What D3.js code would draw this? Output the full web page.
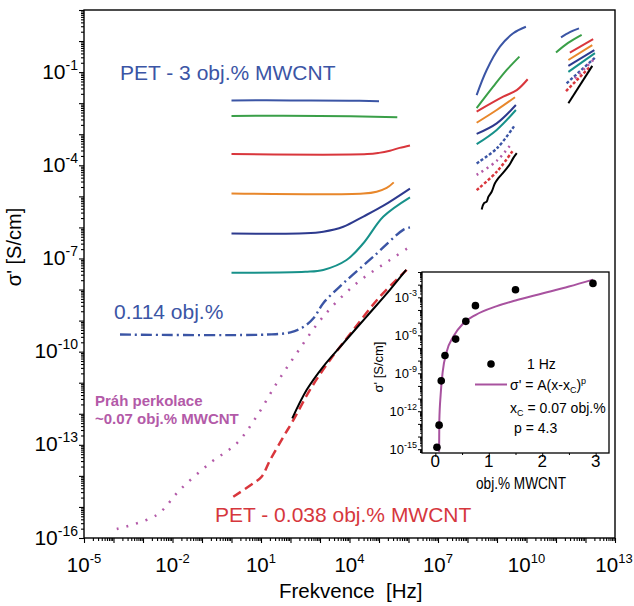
<!DOCTYPE html>
<html>
<head>
<meta charset="utf-8">
<script src="https://cdn.jsdelivr.net/npm/d3@7"></script>
<style>
  body { margin: 0; background: #fff; }
  svg { font-family: "Liberation Sans", Arial, sans-serif; }
</style>
</head>
<body>
<svg id="chart" width="634" height="606"></svg>
<script>
// every point is [log10 f (Hz), log10 sigma' (S/cm)]
// each series: [low-frequency curve, first HF block, second HF block]
const blueLine = [
  [[0, -1.91], [2, -1.91], [4, -1.92], [5, -1.94]],
  [[8.31, -1.74], [8.65, -0.93], [9.10, -0.18], [9.55, 0.25], [9.98, 0.46]],
  [[11.17, 0.12], [11.47, 0.29], [11.78, 0.41]]
];
const greenLine = [
  [[0, -2.41], [3, -2.41], [5.62, -2.45]],
  [[8.31, -2.16], [8.87, -1.47], [9.33, -0.93], [9.76, -0.50]],
  [[11.0, -0.37], [11.41, -0.06], [11.87, 0.20]]
];
const redLine = [
  [[0, -3.64], [4.6, -3.64], [5.0, -3.6], [5.37, -3.53], [5.7, -3.44], [6.05, -3.36]],
  [[8.31, -2.27], [9.21, -1.79], [9.67, -1.58], [10.04, -1.23]],
  [[11.47, -0.37], [12.26, 0.06]]
];
const orangeLine = [
  [[0, -4.91], [4.47, -4.91], [4.92, -4.85], [5.26, -4.73], [5.5, -4.55]],
  [[8.31, -2.63], [8.99, -2.22], [9.61, -1.81]],
  [[11.42, -0.61], [12.23, -0.13]]
];
const navyLine = [
  [[0, -6.2], [2.5, -6.19], [3.11, -6.14], [3.79, -5.98], [4.47, -5.65], [5.15, -5.3], [6.05, -4.75]],
  [[8.31, -2.99], [8.99, -2.65], [9.64, -2.06]],
  [[11.42, -0.80], [12.30, -0.29]]
];
const tealLine = [
  [[0, -7.46], [2.5, -7.43], [3.11, -7.37], [3.9, -7.05], [4.47, -6.51], [5.15, -5.65], [6.05, -5.03]],
  [[8.31, -3.32], [8.99, -2.86], [9.64, -2.22]],
  [[11.42, -0.99], [12.32, -0.39]]
];
const line0114 = [
  [[-3.78, -9.45], [1.2, -9.45], [2.0, -9.38], [2.45, -9.2], [2.8, -8.9], [3.11, -8.44], [3.79, -7.8], [4.81, -6.94], [5.82, -6.08], [6.05, -6.0]],
  [[8.31, -3.94], [9.0, -3.45], [9.61, -2.70]],
  [[11.36, -1.36], [12.36, -0.50]]
];
const lineThreshold = [
  [[-3.89, -15.71], [-2.54, -15.26], [-1.75, -14.45], [-0.73, -13.59], [0.18, -12.95], [0.85, -12.09],
   [1.53, -11.02], [2.21, -10.05], [3.11, -8.87], [4.24, -7.8], [5.37, -7.05], [6.05, -6.62]],
  [[8.31, -4.31], [9.0, -3.85], [9.5, -3.29]],
  [[11.64, -1.20], [12.26, -0.61]]
];
const line0038 = [
  [[0.06, -14.67], [0.74, -14.24], [1.02, -14.03], [1.31, -13.49], [1.76, -12.74], [2.1, -12.2],
   [2.66, -11.23], [3.34, -10.27], [4.13, -9.3], [5.03, -8.23], [5.94, -7.37]],
  [[8.31, -4.80], [9.0, -4.2], [9.55, -3.51]],
  [[11.34, -1.61], [12.15, -0.83]]
];
const blackLine = [
  [[2.06, -12.15], [2.55, -11.23], [3.11, -10.48], [3.79, -9.73], [4.58, -8.87], [5.37, -8.01], [5.92, -7.37]],
  [[8.48, -5.42], [8.56, -5.22], [8.65, -5.17], [8.71, -5.01], [8.82, -4.85], [8.93, -4.58],
   [9.04, -4.42], [9.19, -4.26], [9.33, -4.10], [9.44, -3.96], [9.55, -3.77], [9.67, -3.61]],
  [[11.42, -2.0], [12.23, -0.80]]
];

// inset: sigma' at 1 Hz vs MWCNT content
const insetConc = [0.03, 0.07, 0.11, 0.18, 0.38, 0.57, 0.75, 1.5, 2.95];
const insetLogSigma = [-14.85, -13.1, -9.6, -7.6, -6.3, -4.9, -3.66, -2.4, -1.9];
const fitConc = [0.07, 0.074, 0.099, 0.137, 0.212, 0.337, 0.524, 0.749, 1.15, 1.5, 2.0, 2.5, 2.95];
const fitLogSigma = [-15.2, -12.8, -10.7, -8.9, -7.3, -6.1, -5.05, -4.4, -3.7, -3.25, -2.7, -2.15, -1.6];

const xLabelExp = [-5, -2, 1, 4, 7, 10, 13];
const yLabelExp = [-16, -13, -10, -7, -4, -1];
const insetYLabelExp = [-15, -12, -9, -6, -3];
const insetXTicks = [0, 1, 2, 3];

const svg = d3.select("#chart");
const x = d3.scaleLog().domain([1e-5, 1e13]).range([84, 615]);
const y = d3.scaleLog().domain([1e-16, 1e1]).range([538, 10]);

const decades = (a, b) => d3.range(a, b + 1).map(e => 10 ** e);
const minors = (a, b) => d3.range(a, b).flatMap(e => d3.range(2, 10).map(k => k * 10 ** e));

// main axes
function tickAxis(axis, values, size, tr) {
  svg.append("g").attr("transform", tr)
    .call(axis.tickValues(values).tickSize(size).tickFormat(""))
    .call(g => g.select(".domain").remove())
    .selectAll("line").attr("stroke-width", 1.1);
}
tickAxis(d3.axisBottom(x), minors(-5, 13), 3, "translate(0,538)");
tickAxis(d3.axisBottom(x), decades(-5, 13), 5, "translate(0,538)");
tickAxis(d3.axisLeft(y), minors(-16, 1), 3, "translate(84,0)");
tickAxis(d3.axisLeft(y), decades(-16, 1), 5, "translate(84,0)");

svg.append("rect").attr("x", 84).attr("y", 10).attr("width", 531).attr("height", 528)
  .attr("fill", "none").attr("stroke", "#000").attr("stroke-width", 1.4);

xLabelExp.forEach(e => {
  const t = svg.append("text").attr("x", Math.min(x(10 ** e), 614)).attr("y", 572)
    .attr("text-anchor", "middle").attr("font-size", 20.5);
  t.append("tspan").text("10");
  t.append("tspan").attr("dy", -9).attr("font-size", 13).text(e);
});
yLabelExp.forEach(e => {
  const t = svg.append("text").attr("x", 78).attr("y", y(10 ** e) + 6.5)
    .attr("text-anchor", "end").attr("font-size", 21);
  t.append("tspan").text("10");
  t.append("tspan").attr("dy", -9).attr("font-size", 14).text(e);
});

svg.append("text").attr("x", 279).attr("y", 598).attr("font-size", 20.5)
  .style("white-space", "pre").text("Frekvence  [Hz]");
svg.append("text").attr("transform", "translate(21,247) rotate(-90)")
  .attr("text-anchor", "middle").attr("font-size", 20).text("σ' [S/cm]");

// curves
const line = d3.line()
  .x(d => x(10 ** d[0]))
  .y(d => y(10 ** d[1]))
  .curve(d3.curveCatmullRom);

const series = [
  { segs: blueLine, color: "#3b55a5" },
  { segs: greenLine, color: "#3a9f48" },
  { segs: redLine, color: "#d9363c" },
  { segs: orangeLine, color: "#e8872b" },
  { segs: navyLine, color: "#2d3a8e" },
  { segs: tealLine, color: "#17918a" },
  { segs: line0114, color: "#3b55a5", dash: "11 4 2 4", hfDash: "3 2", w: 2.4 },
  { segs: lineThreshold, color: "#b35aa8", dash: "2 8", hfDash: "2 4", w: 2.5 },
  { segs: line0038, color: "#d9363c", dash: "9 5", hfDash: "3 2", w: 2.5 },
  { segs: blackLine, color: "#000" }
];
series.forEach(s => {
  s.segs.forEach((seg, i) => {
    svg.append("path").datum(seg)
      .attr("d", line)
      .attr("fill", "none")
      .attr("stroke", s.color)
      .attr("stroke-width", s.w || 2)
      .attr("stroke-dasharray", i === 0 ? s.dash : s.hfDash);
  });
});

// annotations
svg.append("text").attr("x", 120).attr("y", 80).attr("font-size", 21).attr("fill", "#3b55a5")
  .text("PET - 3 obj.% MWCNT");
svg.append("text").attr("x", 114).attr("y", 319).attr("font-size", 21).attr("fill", "#3b55a5")
  .text("0.114 obj.%");
svg.append("text").attr("x", 95).attr("y", 406).attr("font-size", 15).attr("font-weight", "bold")
  .attr("fill", "#b35aa8").text("Práh perkolace");
svg.append("text").attr("x", 95).attr("y", 424).attr("font-size", 15).attr("font-weight", "bold")
  .attr("fill", "#b35aa8").text("~0.07 obj.% MWCNT");
svg.append("text").attr("x", 215).attr("y", 521.5).attr("font-size", 21).attr("fill", "#d6373d")
  .text("PET - 0.038 obj.% MWCNT");

// inset
const ix = d3.scaleLinear().domain([-0.25, 3.25]).range([422, 609]);
const iy = d3.scaleLog().domain([10 ** -15.3, 1e-1]).range([453, 272]);

svg.append("rect").attr("x", 422).attr("y", 272).attr("width", 187).attr("height", 181)
  .attr("fill", "#fff").attr("stroke", "#000").attr("stroke-width", 1.3);

function insetAxis(axis, values, size, tr) {
  svg.append("g").attr("transform", tr)
    .call(axis.tickValues(values).tickSize(size).tickFormat(""))
    .call(g => g.select(".domain").remove())
    .selectAll("line").attr("stroke-width", 1);
}
insetAxis(d3.axisBottom(ix), [0.5, 1.5, 2.5], 2, "translate(0,453)");
insetAxis(d3.axisBottom(ix), insetXTicks, 4, "translate(0,453)");
insetAxis(d3.axisLeft(iy), minors(-16, -1).filter(v => v >= 10 ** -15.3), 2, "translate(422,0)");
insetAxis(d3.axisLeft(iy), decades(-15, -1), 4, "translate(422,0)");

insetXTicks.forEach(v => {
  svg.append("text").attr("x", ix(v)).attr("y", 467).attr("text-anchor", "middle")
    .attr("font-size", 17).text(v);
});
insetYLabelExp.forEach(e => {
  const t = svg.append("text").attr("x", 417).attr("y", iy(10 ** e) + 4.5)
    .attr("text-anchor", "end").attr("font-size", 13);
  t.append("tspan").text("10");
  t.append("tspan").attr("dy", -6).attr("font-size", 9).text(e);
});
svg.append("text").attr("x", 476).attr("y", 489).attr("font-size", 16)
  .attr("textLength", 90).attr("lengthAdjust", "spacingAndGlyphs").text("obj.% MWCNT");
svg.append("text").attr("transform", "translate(383,367) rotate(-90)")
  .attr("text-anchor", "middle").attr("font-size", 13).text("σ' [S/cm]");

const fitPts = fitConc.map((c, i) => [c, fitLogSigma[i]]);
svg.append("path").datum(fitPts)
  .attr("d", d3.line().x(d => ix(d[0])).y(d => iy(10 ** d[1])).curve(d3.curveMonotoneX))
  .attr("fill", "none").attr("stroke", "#a8529f").attr("stroke-width", 2);

svg.append("g").selectAll("circle")
  .data(insetConc.map((c, i) => [c, insetLogSigma[i]]))
  .enter().append("circle")
  .attr("cx", d => ix(d[0])).attr("cy", d => iy(10 ** d[1]))
  .attr("r", 3.8).attr("fill", "#000");

// inset legend
svg.append("circle").attr("cx", 491).attr("cy", 364).attr("r", 3.8).attr("fill", "#000");
svg.append("text").attr("x", 527).attr("y", 369).attr("font-size", 14).text("1 Hz");
svg.append("line").attr("x1", 475).attr("x2", 507).attr("y1", 384.5).attr("y2", 384.5)
  .attr("stroke", "#a8529f").attr("stroke-width", 2);
const eq = svg.append("text").attr("x", 510).attr("y", 390).attr("font-size", 14);
eq.append("tspan").text("σ' = A(x-x");
eq.append("tspan").attr("dy", 3).attr("font-size", 9).text("C");
eq.append("tspan").attr("dy", -3).text(")");
eq.append("tspan").attr("dy", -6).attr("font-size", 9).text("p");
const xc = svg.append("text").attr("x", 510).attr("y", 413).attr("font-size", 14);
xc.append("tspan").text("x");
xc.append("tspan").attr("dy", 3).attr("font-size", 9).text("C");
xc.append("tspan").attr("dy", -3).text(" = 0.07 obj.%");
svg.append("text").attr("x", 514).attr("y", 433).attr("font-size", 14).text("p = 4.3");
</script>
</body>
</html>
